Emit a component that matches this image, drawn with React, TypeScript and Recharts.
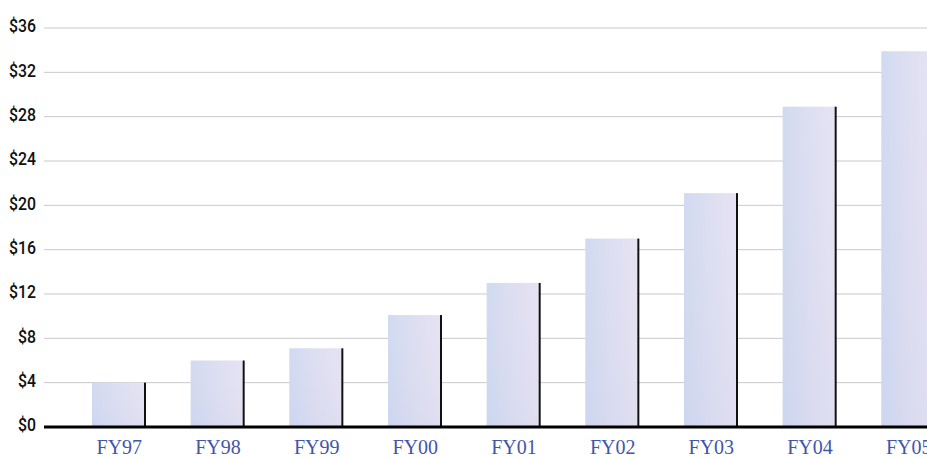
import React from 'react';
import { BarChart, Bar, XAxis, YAxis, CartesianGrid } from 'recharts';

const categories = ['FY97', 'FY98', 'FY99', 'FY00', 'FY01', 'FY02', 'FY03', 'FY04', 'FY05'];
const values = [4.0, 6.0, 7.1, 10.1, 13.0, 17.0, 21.1, 28.9, 33.9];
const yTicks = [0, 4, 8, 12, 16, 20, 24, 28, 32, 36];

const data = categories.map((c, i) => ({ name: c, value: values[i] }));

const BarShape = (props: any) => {
  const { x, y, width, height } = props;
  if (!height || height <= 0) return null;
  const edge = 2;
  return (
    <g>
      <rect x={x} y={y} width={width - edge} height={height} fill="url(#barFill)" />
      <rect x={x} y={y} width={width - edge} height={height} fill="url(#barFillV)" />
      <rect x={x + width - edge} y={y} width={edge} height={height} fill="#111" />
    </g>
  );
};

const YTick = (props: any) => {
  const { x, y, payload } = props;
  return (
    <text
      x={0}
      y={0}
      transform={`translate(${x},${y - 2}) scale(0.88,1)`}
      textAnchor="end"
      dominantBaseline="central"
      fill="#111"
      fontSize={18}
      fontWeight={500}
      fontFamily="Roboto, 'Liberation Sans', sans-serif"
    >
      {`$${payload.value}`}
    </text>
  );
};

export default function App() {
  return (
    <div style={{ position: 'absolute', left: 0, top: 0, width: 927, height: 458, overflow: 'hidden', background: '#fff' }}>
      <BarChart
        width={958}
        height={458}
        data={data}
        margin={{ top: 28, right: 0, bottom: 0, left: 0 }}
        barSize={54}
      >
        <defs>
          <linearGradient id="barFill" x1="0" y1="0" x2="1" y2="0">
            <stop offset="0%" stopColor="#cdd7ef" />
            <stop offset="55%" stopColor="#dcdcf0" />
            <stop offset="100%" stopColor="#e4e0f1" />
          </linearGradient>
          <linearGradient id="barFillV" x1="0" y1="0" x2="0" y2="1">
            <stop offset="0%" stopColor="#ffffff" stopOpacity={0.08} />
            <stop offset="100%" stopColor="#c8d2ee" stopOpacity={0.15} />
          </linearGradient>
        </defs>
        <CartesianGrid horizontal vertical={false} stroke="#c9c9c9" strokeWidth={1} />
        <YAxis
          width={44}
          domain={[0, 36]}
          ticks={yTicks}
          interval={0}
          axisLine={false}
          tickLine={false}
          tickSize={0}
          tickMargin={8}
          tick={<YTick />}
        />
        <XAxis
          dataKey="name"
          height={31}
          padding={{ left: 26, right: 0 }}
          axisLine={{ stroke: '#000', strokeWidth: 3 }}
          tickLine={false}
          tickSize={0}
          tickMargin={13}
          interval={0}
          tick={{ fill: '#4355a8', fontSize: 20, fontFamily: "'Liberation Serif', 'DejaVu Serif', serif" }}
        />
        <Bar dataKey="value" isAnimationActive={false} shape={<BarShape />} />
      </BarChart>
    </div>
  );
}
